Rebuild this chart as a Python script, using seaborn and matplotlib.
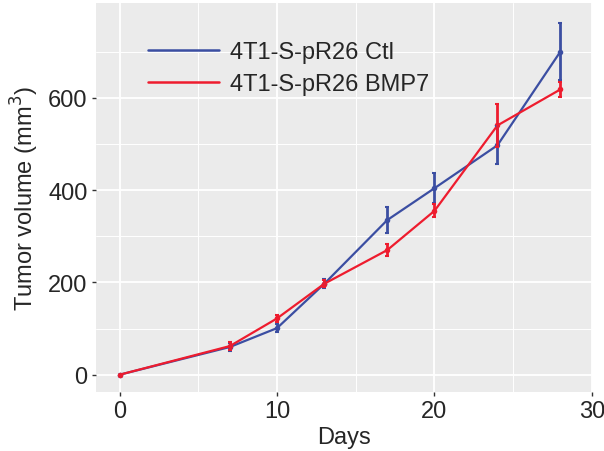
import pandas as pd
import matplotlib.pyplot as plt
import seaborn as sns
from matplotlib.lines import Line2D

# data
days = [0, 7, 10, 13, 17, 20, 24, 28]
ctl_mean = [0, 60, 101, 197, 335, 404, 497, 700]
ctl_err = [0, 8, 8, 10, 29, 32, 41, 61]
bmp7_mean = [0, 62, 122, 197, 270, 355, 540, 618]
bmp7_err = [0, 8, 8, 8, 13, 14, 47, 16]
group_names = ["4T1-S-pR26 Ctl", "4T1-S-pR26 BMP7"]
colors = ["#3B4EA2", "#EE1C2E"]

df = pd.concat([
    pd.DataFrame({"Days": days, "volume": ctl_mean, "err": ctl_err, "group": group_names[0]}),
    pd.DataFrame({"Days": days, "volume": bmp7_mean, "err": bmp7_err, "group": group_names[1]}),
])

sns.set_theme(style="darkgrid", rc={"axes.facecolor": "#EBEBEB", "grid.color": "white"})
plt.rcParams['font.family'] = ['Liberation Sans', 'DejaVu Sans']

fig = plt.figure(figsize=(6.04, 4.52), dpi=100)
ax = fig.add_axes([0.159, 0.131, 0.821, 0.860])

palette = dict(zip(group_names, colors))
sns.lineplot(data=df, x="Days", y="volume", hue="group", palette=palette,
             marker="o", markersize=4, markeredgewidth=0, linewidth=1.6,
             ax=ax, legend=False)

for name in group_names:
    sub = df[df["group"] == name]
    ax.errorbar(sub["Days"], sub["volume"], yerr=sub["err"], fmt="none",
                ecolor=palette[name], elinewidth=2, capsize=1.5, capthick=1.5)

ax.set_xlim(-1.5, 29.7)
ax.set_ylim(-37, 805)
ax.set_xticks([0, 10, 20, 30])
ax.set_yticks([0, 200, 400, 600])
ax.set_xticks([5, 15, 25], minor=True)
ax.set_yticks([100, 300, 500, 700], minor=True)
ax.grid(which="major", color="white", linewidth=1.3)
ax.grid(which="minor", color="white", linewidth=0.7)
ax.tick_params(which="major", length=3, width=1, color="#333333", pad=3,
               labelsize=17, labelcolor="#262626", bottom=True, left=True)
ax.tick_params(which="minor", length=0)
for s in ax.spines.values():
    s.set_visible(False)

ax.set_xlabel("Days", fontsize=17, color="#262626", labelpad=3)
ax.set_ylabel("Tumor volume (mm$^3$)", fontsize=17, color="#262626", labelpad=5)

handles = [Line2D([0], [0], color=c, linewidth=1.8) for c in colors]
ax.legend(handles, group_names, loc="upper left", bbox_to_anchor=(0.105, 0.902),
          frameon=False, fontsize=17, handlelength=3.0, handletextpad=0.45,
          labelspacing=0.42, borderaxespad=0, borderpad=0)

fig.savefig("out.png", dpi=100)
